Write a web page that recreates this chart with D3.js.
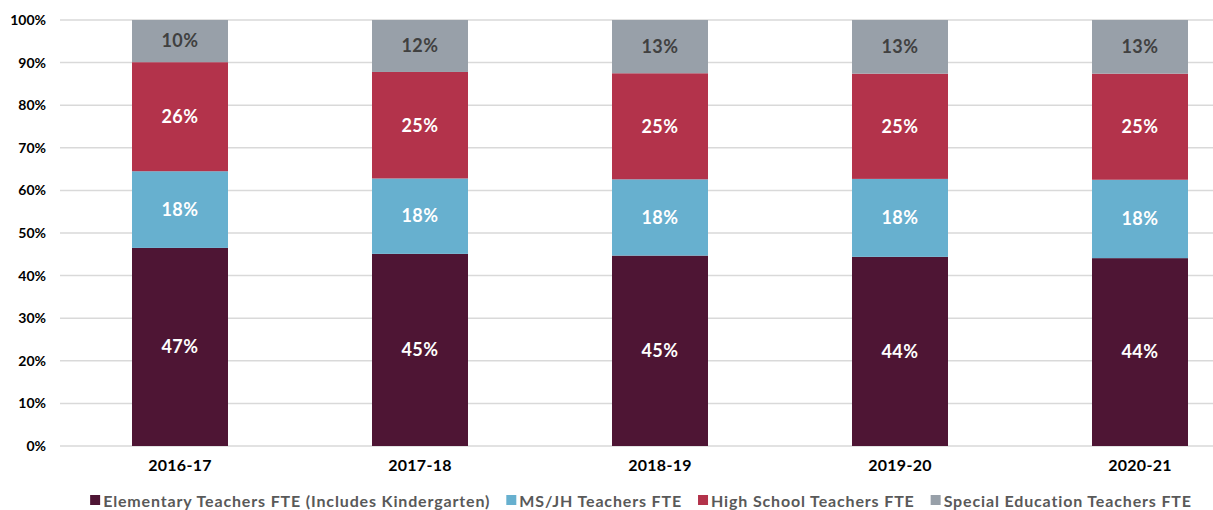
<!DOCTYPE html>
<html>
<head>
<meta charset="utf-8">
<script src="https://cdn.jsdelivr.net/npm/d3@7"></script>
<style>
  body { margin: 0; background: #fff; }
  svg { display: block; font-family: Lato, "Open Sans", sans-serif; font-weight: 700; }
</style>
</head>
<body>
<script>
// Data (share of teacher FTE, %)
var years = ["2016-17", "2017-18", "2018-19", "2019-20", "2020-21"];
var seriesNames = [
    "Elementary Teachers FTE (Includes Kindergarten)",
    "MS/JH Teachers FTE",
    "High School Teachers FTE",
    "Special Education Teachers FTE"
];
var elementary = [46.5, 45.1, 44.7, 44.4, 44.1];
var msjh = [18.0, 17.7, 17.9, 18.3, 18.4];
var highSchool = [25.6, 25.0, 24.9, 24.7, 24.9];
var specialEd = [9.9, 12.2, 12.5, 12.6, 12.6];
var yTicks = [0, 10, 20, 30, 40, 50, 60, 70, 80, 90, 100];

var colors = ["#4e1534", "#67b0cf", "#b3334b", "#98a0a9"];
var labelColors = ["#ffffff", "#ffffff", "#ffffff", "#404040"];

var width = 1213, height = 510;
var svg = d3.select("body").append("svg")
    .attr("width", width)
    .attr("height", height);

// build rows for d3.stack
var keys = ["elementary", "msjh", "highSchool", "specialEd"];
var rows = years.map(function (y, i) {
    return { year: y, elementary: elementary[i], msjh: msjh[i], highSchool: highSchool[i], specialEd: specialEd[i] };
});
var stacked = d3.stack().keys(keys)(rows);

var x = d3.scaleBand()
    .domain(years)
    .range([60, 1260])
    .paddingInner(0.6)
    .paddingOuter(0.3);

var y = d3.scaleLinear()
    .domain([0, 100])
    .range([446, 20]);

// gridlines
svg.append("g")
    .selectAll("line")
    .data(yTicks)
    .enter()
    .append("line")
    .attr("x1", 60)
    .attr("x2", width)
    .attr("y1", function (d) { return y(d); })
    .attr("y2", function (d) { return y(d); })
    .attr("stroke", "#d9d9d9")
    .attr("stroke-width", 1.5);

// y axis labels
var yAxis = d3.axisLeft(y)
    .tickValues(yTicks)
    .tickFormat(function (d) { return d + "%"; })
    .tickSize(0)
    .tickPadding(0);
var yg = svg.append("g")
    .attr("transform", "translate(46,0)")
    .call(yAxis);
yg.select(".domain").remove();
yg.selectAll("text")
    .attr("font-family", "Lato, sans-serif")
    .attr("font-weight", 700)
    .attr("font-size", 14)
    .attr("fill", "#000");

// bars
var layers = svg.append("g")
    .selectAll("g")
    .data(stacked)
    .enter()
    .append("g")
    .attr("fill", function (d, i) { return colors[i]; });

layers.selectAll("rect")
    .data(function (d) { return d; })
    .enter()
    .append("rect")
    .attr("x", function (d) { return x(d.data.year); })
    .attr("y", function (d) { return y(d[1]); })
    .attr("width", x.bandwidth())
    .attr("height", function (d) { return y(d[0]) - y(d[1]); });

// value labels
stacked.forEach(function (layer, li) {
    svg.append("g")
        .selectAll("text")
        .data(layer)
        .enter()
        .append("text")
        .attr("x", function (d) { return x(d.data.year) + x.bandwidth() / 2; })
        .attr("y", function (d) { return (y(d[0]) + y(d[1])) / 2; })
        .attr("dy", "0.35em")
        .attr("text-anchor", "middle")
        .attr("font-size", 18)
        .attr("letter-spacing", 0.5)
        .attr("fill", labelColors[li])
        .text(function (d) { return Math.round(d[1] - d[0]) + "%"; });
});

// x axis labels
var xAxis = d3.axisBottom(x).tickSize(0).tickPadding(0);
var xg = svg.append("g")
    .attr("transform", "translate(0,460)")
    .call(xAxis);
xg.select(".domain").remove();
xg.selectAll("text")
    .attr("font-family", "Lato, sans-serif")
    .attr("font-weight", 700)
    .attr("font-size", 16)
    .attr("letter-spacing", 0.3)
    .attr("fill", "#000");

// legend, laid out from measured text widths and centred
var legend = svg.append("g");
var items = legend.selectAll("g")
    .data(seriesNames)
    .enter()
    .append("g");
items.append("rect")
    .attr("width", 10)
    .attr("height", 10)
    .attr("y", -6)
    .attr("fill", function (d, i) { return colors[i]; });
items.append("text")
    .attr("x", 13)
    .attr("dy", "0.35em")
    .attr("font-size", 16)
    .attr("letter-spacing", 0.85)
    .attr("fill", "#595959")
    .text(function (d) { return d; });

var gap = 16, offset = 0, widths = [];
items.each(function () {
    var w = 13 + d3.select(this).select("text").node().getComputedTextLength();
    widths.push(w);
});
var total = d3.sum(widths) + gap * (widths.length - 1);
var start = 641 - total / 2;
items.attr("transform", function (d, i) {
    var tx = start + offset;
    offset += widths[i] + gap;
    return "translate(" + tx + ",501)";
});
</script>
</body>
</html>
